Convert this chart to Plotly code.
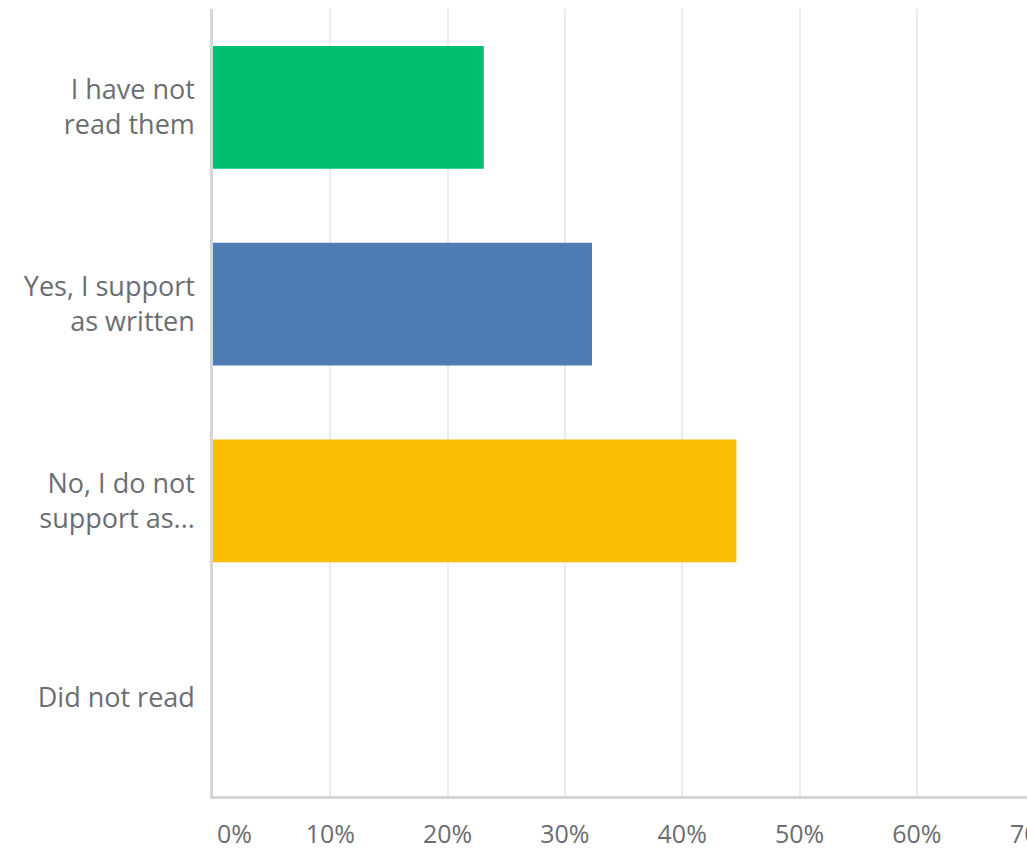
import plotly.graph_objects as go

categories = ["I have not<br>read them", "Yes, I support<br>as written", "No, I do not<br>support as...", "Did not read"]
values = [23.08, 32.31, 44.62, 0.0]
colors = ["#00BF6F", "#507CB6", "#F9BE00", "#6BC8CD"]
tick_vals = [0, 10, 20, 30, 40, 50, 60, 70]
tick_text = ["0%", "10%", "20%", "30%", "40%", "50%", "60%", "70%"]

W, H = 1027, 852
ML, MR, MT, MB = 213, 0, 9, 56
X_MAX = (W - ML) / 11.73  # visible part of the 0-70% axis

FONT = "Open Sans"
TXT = "#6b6e71"
FS_TICK = 25
FS_CAT = 27
STANDOFF = 14

fig = go.Figure(go.Bar(
    y=categories, x=values, orientation="h",
    marker=dict(color=colors, line=dict(width=0)),
    hoverinfo="skip",
))

fig.update_layout(
    width=W, height=H,
    margin=dict(l=ML, r=MR, t=MT, b=MB),
    paper_bgcolor="white", plot_bgcolor="white",
    bargap=0.375,
    showlegend=False,
    font=dict(family=FONT, color=TXT, size=FS_TICK),
)

inner_vals = [v for v in tick_vals if 0 < v < X_MAX]
inner_text = [t for v, t in zip(tick_vals, tick_text) if 0 < v < X_MAX]

fig.update_xaxes(
    range=[0, X_MAX],
    tickvals=inner_vals, ticktext=inner_text,
    showgrid=True, gridcolor="#ececec", gridwidth=1.5,
    zeroline=False,
    showline=True, linecolor="#d6d6d6", linewidth=2.5,
    ticks="", ticklabelstandoff=STANDOFF,
    tickfont=dict(family=FONT, color=TXT, size=FS_TICK),
    automargin=False,
    fixedrange=True,
)
fig.update_yaxes(
    categoryorder="array", categoryarray=categories,
    autorange="reversed",
    showgrid=False, zeroline=False,
    showline=True, linecolor="#d6d6d6", linewidth=2.5,
    ticks="", ticklabelstandoff=10,
    tickfont=dict(family=FONT, color=TXT, size=FS_CAT),
    automargin=False,
    fixedrange=True,
)

# edge tick labels: 0% sits left-aligned on the axis, 70% is cut off by the frame
for v, t in zip(tick_vals, tick_text):
    if v == 0:
        fig.add_annotation(x=v / X_MAX, xref="paper", y=0, yref="paper",
                           text=t, showarrow=False, xanchor="left", yanchor="top",
                           xshift=2, yshift=-(STANDOFF + 4),
                           font=dict(family=FONT, color=TXT, size=FS_TICK))
    elif v >= X_MAX:
        fig.add_annotation(x=v / X_MAX, xref="paper", y=0, yref="paper",
                           text=t, showarrow=False, xanchor="center", yanchor="top",
                           yshift=-(STANDOFF + 4),
                           font=dict(family=FONT, color=TXT, size=FS_TICK))

fig.write_html("out.html", config={"displayModeBar": False})
